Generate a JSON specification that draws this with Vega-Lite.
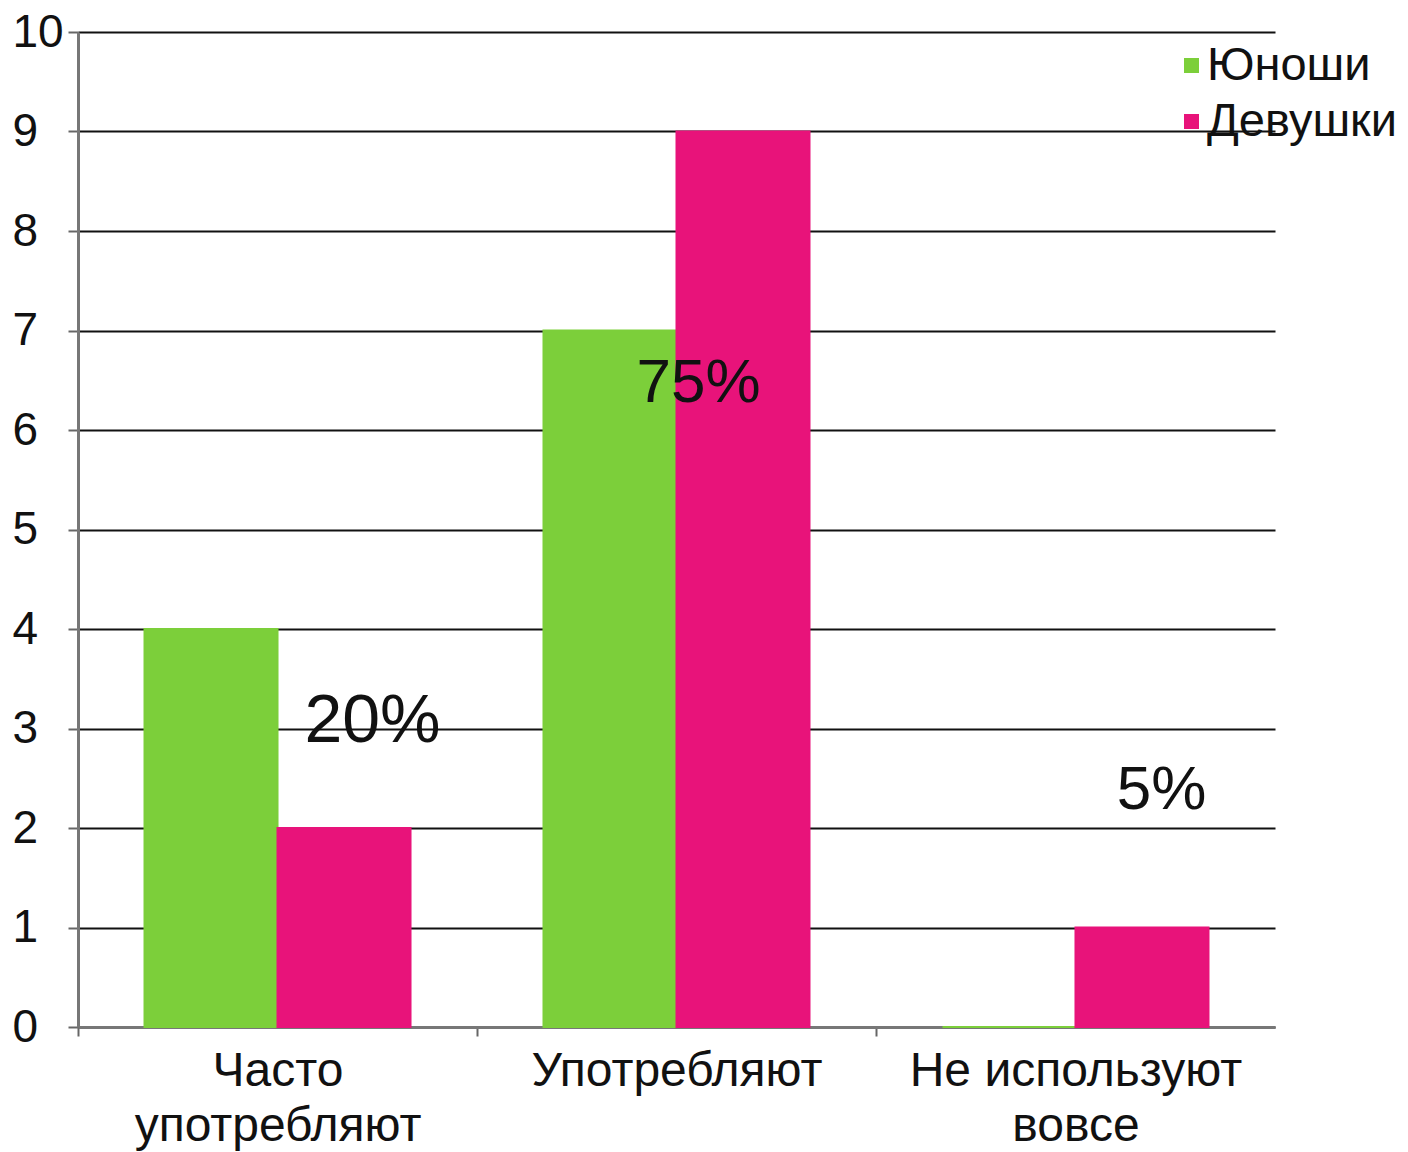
{
  "$schema": "https://vega.github.io/schema/vega-lite/v6.json",
  "autosize": {"type": "none"},
  "padding": {"left": 78, "top": 32, "right": 133, "bottom": 125},
  "width": 1197,
  "height": 995,
  "background": "white",
  "config": {
    "font": "Liberation Sans",
    "view": {"stroke": null}
  },
  "datasets": {
    "bars": [
      {"cat": "Часто употребляют", "group": "Юноши", "value": 4},
      {"cat": "Часто употребляют", "group": "Девушки", "value": 2},
      {"cat": "Употребляют", "group": "Юноши", "value": 7},
      {"cat": "Употребляют", "group": "Девушки", "value": 9},
      {"cat": "Не используют вовсе", "group": "Юноши", "value": 0},
      {"cat": "Не используют вовсе", "group": "Девушки", "value": 1}
    ],
    "notes": [
      {"cat": "Часто употребляют", "y": 3.07, "label": "20%", "k": "a"},
      {"cat": "Употребляют", "y": 6.47, "label": "75%", "k": "b"},
      {"cat": "Не используют вовсе", "y": 2.38, "label": "5%", "k": "c"}
    ]
  },
  "layer": [
    {
      "data": {"name": "bars"},
      "mark": {"type": "bar", "strokeWidth": 2},
      "encoding": {
        "x": {
          "field": "cat", "type": "nominal", "sort": null,
          "scale": {"paddingInner": 0.3333, "paddingOuter": 0.1667},
          "axis": {
            "title": null, "labelAngle": 0, "labelFontSize": 48, "labelColor": "#111",
            "labelLineHeight": 55, "labelPadding": 11, "labelLimit": 600,
            "labelExpr": "datum.label == 'Не используют вовсе' ? ['Не используют', 'вовсе'] : split(datum.label, ' ')",
            "tickOffset": -199.5, "labelOffset": 199.5, "tickSize": 9, "tickColor": "#666", "tickWidth": 2,
            "domainColor": "#777", "domainWidth": 3, "grid": false
          }
        },
        "xOffset": {"field": "group", "type": "nominal", "sort": ["Юноши", "Девушки"], "scale": {"paddingInner": 0, "paddingOuter": 0}},
        "y": {
          "field": "value", "type": "quantitative",
          "scale": {"domain": [0, 10], "nice": false},
          "axis": {
            "title": null, "values": [0,1,2,3,4,5,6,7,8,9,10], "format": "d",
            "labelFontSize": 46, "labelColor": "#111", "labelAlign": "left",
            "labelPadding": 56, "tickSize": 10, "tickColor": "#666", "tickWidth": 2,
            "domainColor": "#777", "domainWidth": 3,
            "grid": true, "gridColor": "#111", "gridWidth": 2, "gridOpacity": 1
          }
        },
        "color": {
          "field": "group", "type": "nominal", "sort": ["Юноши", "Девушки"],
          "scale": {"domain": ["Юноши", "Девушки"], "range": ["#7ccf3a", "#e8137a"]},
          "legend": {
            "title": null, "orient": "none", "legendX": 1090, "legendY": 10,
            "symbolType": "square", "symbolSize": 225, "symbolStrokeWidth": 0,
            "labelFontSize": 47, "labelColor": "#111", "labelOffset": -8,
            "rowPadding": 8, "padding": 0, "labelLimit": 400
          }
        },
        "stroke": {
          "field": "group", "type": "nominal", "sort": ["Юноши", "Девушки"],
          "scale": {"domain": ["Юноши", "Девушки"], "range": ["#7ccf3a", "#e8137a"]},
          "legend": null
        }
      }
    },
    {
      "data": {"name": "notes"},
      "transform": [{"filter": "datum.k == 'a'"}],
      "mark": {"type": "text", "fontSize": 68, "dx": 95, "baseline": "middle", "align": "center", "color": "#111"},
      "encoding": {
        "x": {"field": "cat", "type": "nominal", "sort": null},
        "y": {"field": "y", "type": "quantitative"},
        "text": {"field": "label"}
      }
    },
    {
      "data": {"name": "notes"},
      "transform": [{"filter": "datum.k == 'b'"}],
      "mark": {"type": "text", "fontSize": 62, "dx": 22, "baseline": "middle", "align": "center", "color": "#111"},
      "encoding": {
        "x": {"field": "cat", "type": "nominal", "sort": null},
        "y": {"field": "y", "type": "quantitative"},
        "text": {"field": "label"}
      }
    },
    {
      "data": {"name": "notes"},
      "transform": [{"filter": "datum.k == 'c'"}],
      "mark": {"type": "text", "fontSize": 62, "dx": 86, "baseline": "middle", "align": "center", "color": "#111"},
      "encoding": {
        "x": {"field": "cat", "type": "nominal", "sort": null},
        "y": {"field": "y", "type": "quantitative"},
        "text": {"field": "label"}
      }
    }
  ]
}
